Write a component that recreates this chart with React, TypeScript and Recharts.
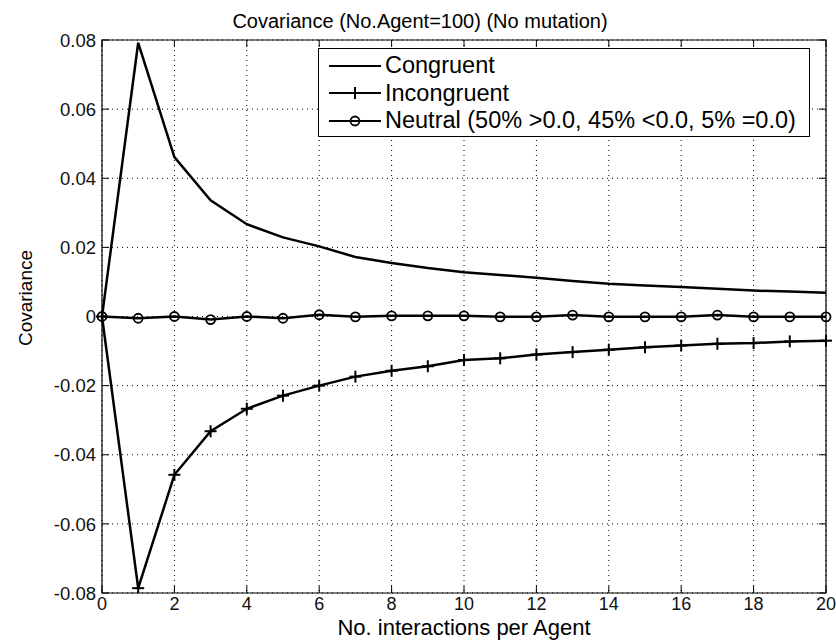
import React from 'react';
import { LineChart, Line, XAxis, YAxis, CartesianGrid, ReferenceArea } from 'recharts';

// interactions per agent on the x axis
const interactions = [0, 1, 2, 3, 4, 5, 6, 7, 8, 9, 10, 11, 12, 13, 14, 15, 16, 17, 18, 19, 20];
const congruent = [0, 0.0792, 0.0461, 0.0336, 0.0267, 0.0229, 0.0203, 0.0172, 0.0155, 0.014, 0.0128, 0.012, 0.0112, 0.0103, 0.0095, 0.009, 0.0085, 0.008, 0.0075, 0.0072, 0.0069];
const incongruent = [0, -0.0786, -0.0458, -0.0332, -0.0267, -0.0229, -0.02, -0.0174, -0.0157, -0.0144, -0.0126, -0.0121, -0.011, -0.0103, -0.0096, -0.0089, -0.0084, -0.0079, -0.0077, -0.0072, -0.007];
const neutral = [0, -0.0005, 0, -0.0009, 0, -0.0005, 0.0005, -0.0001, 0.0002, 0.0002, 0.0002, -0.0001, -0.0001, 0.0004, -0.0001, -0.0001, -0.0001, 0.0004, -0.0001, -0.0001, -0.0001];

const xTicks = [0, 2, 4, 6, 8, 10, 12, 14, 16, 18, 20];
const yTicks = [-0.08, -0.06, -0.04, -0.02, 0, 0.02, 0.04, 0.06, 0.08];
const legendLabels = ['Congruent', 'Incongruent', 'Neutral (50% >0.0, 45% <0.0, 5% =0.0)'];

const data = interactions.map((x, i) => ({
  x,
  congruent: congruent[i],
  incongruent: incongruent[i],
  neutral: neutral[i],
}));

const W = 836;
const H = 642;
const MARGIN = { top: 40, right: 10, bottom: 19, left: 42 };
const Y_AXIS_W = 60;
const X_AXIS_H = 30;
const PLOT_TOP = MARGIN.top;
const PLOT_BOTTOM = H - MARGIN.bottom - X_AXIS_H;
const PLOT_LEFT = MARGIN.left + Y_AXIS_W;
const PLOT_RIGHT = W - MARGIN.right;
const TICK_LEN = 7;
const FONT = '"Liberation Sans", Arial, Helvetica, sans-serif';

const fmtY = (v: number) => (Math.abs(v) < 1e-9 ? '0' : v.toFixed(2));

// matlab-style ticks: pointing inward on all four sides
function XTick({ x, payload }: any) {
  return (
    <g>
      <line x1={x} x2={x} y1={PLOT_BOTTOM} y2={PLOT_BOTTOM - TICK_LEN} stroke="#000" />
      <line x1={x} x2={x} y1={PLOT_TOP} y2={PLOT_TOP + TICK_LEN} stroke="#000" />
      <text x={x} y={PLOT_BOTTOM + 16.5} textAnchor="middle" fontFamily={FONT} fontSize={18} fill="#111">
        {payload.value}
      </text>
    </g>
  );
}

function YTick({ y, payload }: any) {
  return (
    <g>
      <line x1={PLOT_LEFT} x2={PLOT_LEFT + TICK_LEN} y1={y} y2={y} stroke="#000" />
      <line x1={PLOT_RIGHT} x2={PLOT_RIGHT - TICK_LEN} y1={y} y2={y} stroke="#000" />
      <text x={PLOT_LEFT - 6} y={y} dy="0.36em" textAnchor="end" fontFamily={FONT} fontSize={18.5} fill="#111">
        {fmtY(payload.value)}
      </text>
    </g>
  );
}

function PlusDot({ cx, cy }: any) {
  if (cx == null || cy == null) return null;
  return (
    <g stroke="#000" strokeWidth={2}>
      <line x1={cx - 6} x2={cx + 6} y1={cy} y2={cy} />
      <line x1={cx} x2={cx} y1={cy - 6} y2={cy + 6} />
    </g>
  );
}

function CircleDot({ cx, cy }: any) {
  if (cx == null || cy == null) return null;
  return <circle cx={cx} cy={cy} r={4.5} fill="none" stroke="#000" strokeWidth={1.8} />;
}

function LegendSample({ marker }: { marker: 'none' | 'plus' | 'circle' }) {
  return (
    <svg width={56} height={28} style={{ display: 'block' }}>
      <line x1={2} x2={54} y1={14} y2={14} stroke="#000" strokeWidth={2} />
      {marker === 'plus' && <PlusDot cx={28} cy={14} />}
      {marker === 'circle' && <CircleDot cx={28} cy={14} />}
    </svg>
  );
}

export default function App() {
  const markers: ('none' | 'plus' | 'circle')[] = ['none', 'plus', 'circle'];
  return (
    <div style={{ position: 'absolute', left: 0, top: 0, width: W, height: H, background: '#fff', fontFamily: FONT }}>
      <div style={{ position: 'absolute', left: 120, width: 600, top: 10, textAlign: 'center', fontSize: 20, lineHeight: '23px', color: '#000' }}>
        Covariance (No.Agent=100) (No mutation)
      </div>

      <LineChart width={W} height={H} data={data} margin={MARGIN}>
        <CartesianGrid stroke="#000" strokeDasharray="1 4" strokeWidth={1} />
        <XAxis
          dataKey="x"
          type="number"
          domain={[0, 20]}
          ticks={xTicks}
          interval={0}
          height={X_AXIS_H}
          axisLine={false}
          tickLine={false}
          tick={<XTick />}
        />
        <YAxis
          type="number"
          domain={[-0.08, 0.08]}
          ticks={yTicks}
          interval={0}
          width={Y_AXIS_W}
          allowDataOverflow
          axisLine={false}
          tickLine={false}
          tick={<YTick />}
        />
        <ReferenceArea x1={0} x2={20} y1={-0.08} y2={0.08} fill="none" stroke="#000" strokeWidth={1.2} />
        <Line dataKey="congruent" type="linear" stroke="#000" strokeWidth={2.5} dot={false} activeDot={false} isAnimationActive={false} />
        <Line dataKey="incongruent" type="linear" stroke="#000" strokeWidth={2.5} dot={<PlusDot />} activeDot={false} isAnimationActive={false} />
        <Line dataKey="neutral" type="linear" stroke="#000" strokeWidth={2.5} dot={<CircleDot />} activeDot={false} isAnimationActive={false} />
      </LineChart>

      <div
        style={{
          position: 'absolute',
          left: 318,
          top: 48,
          width: 492,
          height: 89,
          boxSizing: 'border-box',
          border: '1px solid #000',
          background: '#fff',
          paddingTop: 3,
        }}
      >
        {legendLabels.map((label, i) => (
          <div key={label} style={{ display: 'flex', alignItems: 'center', height: 27.5, paddingLeft: 8 }}>
            <LegendSample marker={markers[i]} />
            <span style={{ marginLeft: 2, fontSize: 23.5, lineHeight: '27px', color: '#000', whiteSpace: 'nowrap' }}>{label}</span>
          </div>
        ))}
      </div>

      <div style={{ position: 'absolute', left: PLOT_LEFT, width: PLOT_RIGHT - PLOT_LEFT, top: 615, textAlign: 'center', fontSize: 22, lineHeight: '25px', color: '#000' }}>
        No. interactions per Agent
      </div>

      <div
        style={{
          position: 'absolute',
          left: 26 - 100,
          top: 298 - 12,
          width: 200,
          height: 24,
          lineHeight: '24px',
          textAlign: 'center',
          fontSize: 19,
          color: '#000',
          transform: 'rotate(-90deg)',
        }}
      >
        Covariance
      </div>
    </div>
  );
}
